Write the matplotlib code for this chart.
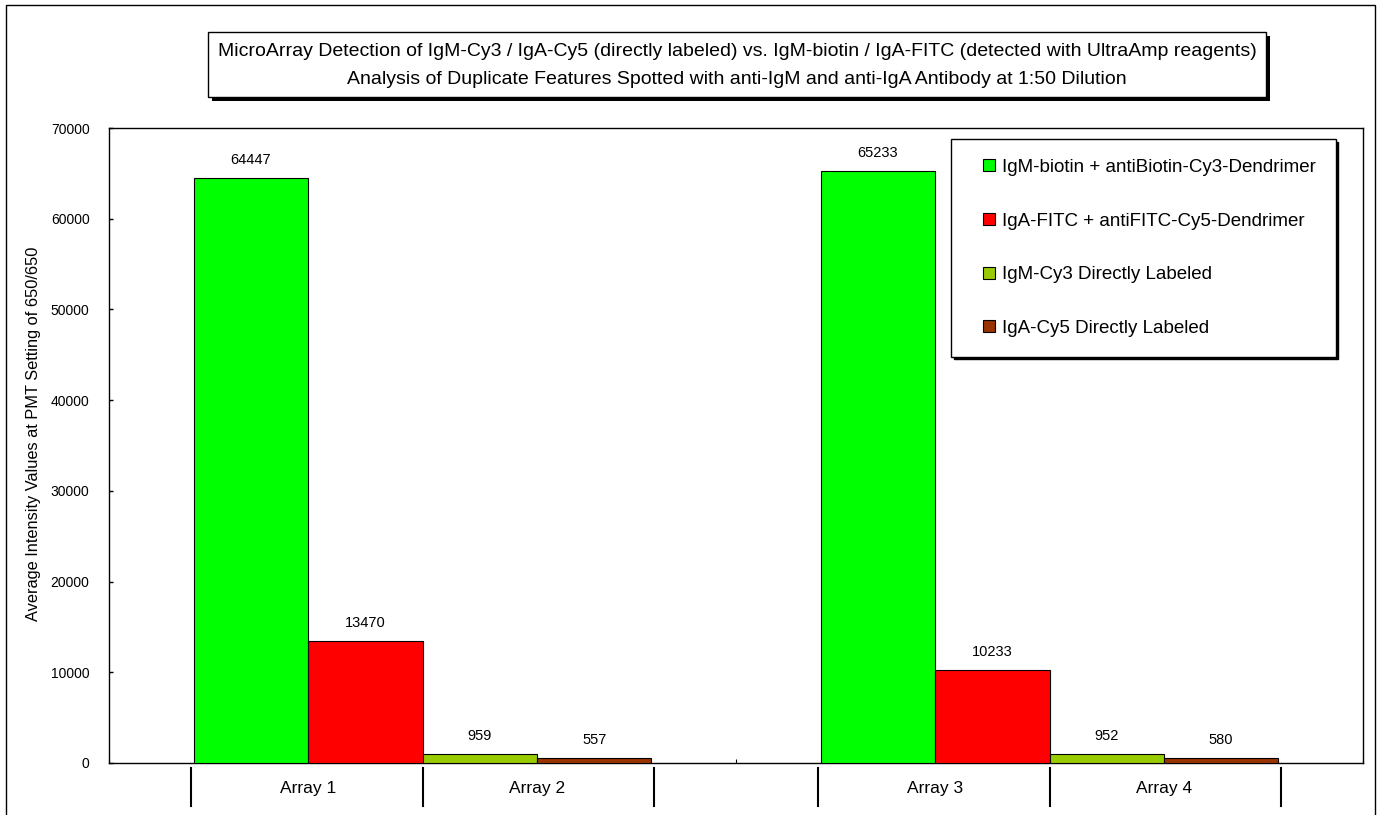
import matplotlib
matplotlib.use("Agg")
import matplotlib.pyplot as plt
from matplotlib.patches import Rectangle
from matplotlib.lines import Line2D
from matplotlib.transforms import blended_transform_factory

plt.rcParams['font.family'] = ['Liberation Sans', 'DejaVu Sans']

# Data
array_labels = [["Array 1", "Array 2"], ["Array 3", "Array 4"]]
series_names = [
    "IgM-biotin + antiBiotin-Cy3-Dendrimer",
    "IgA-FITC + antiFITC-Cy5-Dendrimer",
    "IgM-Cy3 Directly Labeled",
    "IgA-Cy5 Directly Labeled",
]
series_colors = ["#00FF00", "#FF0000", "#99CC00", "#993300"]
igm_biotin = [64447, 65233]
iga_fitc = [13470, 10233]
igm_cy3 = [959, 952]
iga_cy5 = [557, 580]
series_values = [igm_biotin, iga_fitc, igm_cy3, iga_cy5]

title_lines = [
    "MicroArray Detection of IgM-Cy3 / IgA-Cy5 (directly labeled) vs. IgM-biotin / IgA-FITC (detected with UltraAmp reagents)",
    "Analysis of Duplicate Features Spotted with anti-IgM and anti-IgA Antibody at 1:50 Dilution",
]
ylabel = "Average Intensity Values at PMT Setting of 650/650"
yticks = [0, 10000, 20000, 30000, 40000, 50000, 60000, 70000]

W, H = 1381, 815
fig = plt.figure(figsize=(W / 100, H / 100), dpi=100)
fig.patch.set_facecolor("white")

def fx(px):
    return px / W

def fy(py):
    return 1 - py / H

# Outer chart border
fig.patches.append(Rectangle((fx(6), fy(830)), fx(1375) - fx(6), fy(5) - fy(830),
                             transform=fig.transFigure, fill=False, edgecolor="black",
                             linewidth=1.0, zorder=0))

# Plot area
left, right, top, bottom = 109, 1363, 128, 763
ax = fig.add_axes([fx(left), fy(bottom), fx(right) - fx(left), fy(top) - fy(bottom)])

bar_w = 0.1825
centers = [0.5, 1.5]
offsets = [-1.5, -0.5, 0.5, 1.5]
for s, (vals, color) in enumerate(zip(series_values, series_colors)):
    xs = [c + offsets[s] * bar_w for c in centers]
    bars = ax.bar(xs, vals, width=bar_w, color=color, edgecolor="black", linewidth=0.8,
                  label=series_names[s], zorder=3)
    for b, v in zip(bars, vals):
        ax.annotate(f"{v}", (b.get_x() + b.get_width() / 2, v), xytext=(0, 8),
                    textcoords="offset points", ha="center", va="bottom", fontsize=10.5)

ax.set_xlim(0, 2)
ax.set_ylim(0, 70000)
ax.set_yticks(yticks)
ax.set_yticklabels([str(t) for t in yticks], fontsize=10)
ax.tick_params(axis="y", direction="in", length=3, width=1, pad=14)
ax.set_xticks([0, 1, 2])
ax.set_xticklabels([])
ax.tick_params(axis="x", direction="in", length=3, width=0.8)
for sp in ax.spines.values():
    sp.set_color("black")
    sp.set_linewidth(1.0)

ax.set_ylabel(ylabel, fontsize=11.8)
ax.yaxis.set_label_coords(-(left - 41) / (right - left), 0.5 + 12 / (bottom - top))

# Category separators and array labels below the axis
trans = blended_transform_factory(ax.transData, ax.transAxes)
y0 = -(768 - bottom) / (bottom - top)
y1 = -(806 - bottom) / (bottom - top)
ylab = -(788 - bottom) / (bottom - top)
sep_half = 0.37
for c, labs in zip(centers, array_labels):
    for sx in (c - sep_half, c, c + sep_half):
        ax.plot([sx, sx], [y0, y1], color="black", linewidth=1.5, transform=trans,
                clip_on=False)
    ax.text(c - bar_w, ylab, labs[0], transform=trans, ha="center", va="center", fontsize=12.5)
    ax.text(c + bar_w, ylab, labs[1], transform=trans, ha="center", va="center", fontsize=12.5)

# Legend with a drop shadow
handles = [Line2D([], [], linestyle="none", marker="s", markersize=8.6,
                  markerfacecolor=c, markeredgecolor="black", markeredgewidth=0.8)
           for c in series_colors]
leg = ax.legend(handles, series_names, loc="upper left",
                bbox_to_anchor=(fx(951), fy(139)), bbox_transform=fig.transFigure,
                fontsize=13.5, frameon=True, fancybox=False,
                shadow={"color": "black", "alpha": 1},
                borderpad=1.05, labelspacing=1.95, handlelength=1.95, handleheight=0.7,
                handletextpad=-0.28, borderaxespad=0)
leg.get_frame().set_edgecolor("black")
leg.get_frame().set_linewidth(1.0)

# Title box with drop shadow
tb_l, tb_r, tb_t, tb_b = 208, 1266, 32, 97
sh = 4
fig.patches.append(Rectangle((fx(tb_l + sh), fy(tb_b + sh)), fx(tb_r) - fx(tb_l), fy(tb_t) - fy(tb_b),
                             transform=fig.transFigure, facecolor="black", edgecolor="black",
                             linewidth=0, zorder=1))
fig.patches.append(Rectangle((fx(tb_l), fy(tb_b)), fx(tb_r) - fx(tb_l), fy(tb_t) - fy(tb_b),
                             transform=fig.transFigure, facecolor="white", edgecolor="black",
                             linewidth=1.0, zorder=2))
fig.text(fx((tb_l + tb_r) / 2), fy(52), title_lines[0], ha="center", va="center", fontsize=14)
fig.text(fx((tb_l + tb_r) / 2), fy(79), title_lines[1], ha="center", va="center", fontsize=14)

fig.savefig("out.png", dpi=100)
